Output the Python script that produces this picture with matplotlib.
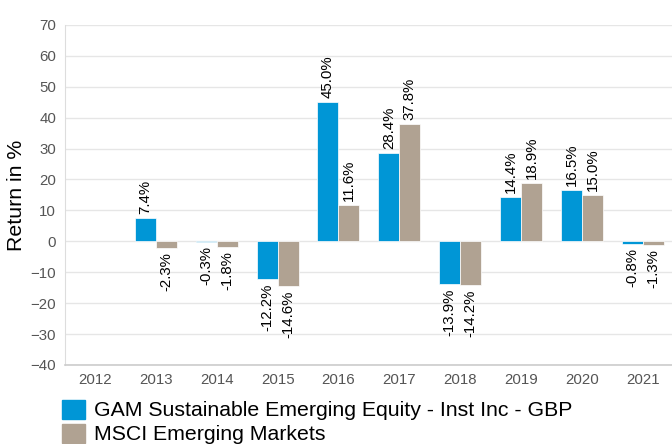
import numpy as np
import matplotlib.pyplot as plt
from matplotlib.patches import Patch

plt.rcParams['font.family'] = ['Liberation Sans', 'DejaVu Sans']

years = ['2012', '2013', '2014', '2015', '2016', '2017', '2018', '2019', '2020', '2021']
gam = [np.nan, 7.4, -0.3, -12.2, 45.0, 28.4, -13.9, 14.4, 16.5, -0.8]
msci = [np.nan, -2.3, -1.8, -14.6, 11.6, 37.8, -14.2, 18.9, 15.0, -1.3]
series_names = ['GAM Sustainable Emerging Equity - Inst Inc - GBP', 'MSCI Emerging Markets']
colors = ['#0096d6', '#b0a292']

fig = plt.figure(figsize=(6.72, 4.44), dpi=100)
ax = fig.add_axes([0.096, 0.178, 0.906, 0.766])

x = np.arange(len(years))
w = 0.345
for vals, off, c in [(gam, -w / 2, colors[0]), (msci, w / 2, colors[1])]:
    ax.bar(x + off, vals, width=w, color=c, edgecolor='white', linewidth=0.5, zorder=2)
    for xi, v in zip(x, vals):
        if np.isnan(v):
            continue
        ax.annotate(f'{v:.1f}%', (xi + off, v), xytext=(0, 3 if v >= 0 else -3),
                    textcoords='offset points', rotation=90, ha='center',
                    va='bottom' if v >= 0 else 'top', fontsize=10.8, color='black')

ax.set_xlim(-0.5, len(years) - 0.5)
ax.set_ylim(-40, 70)
ax.set_yticks(range(-40, 71, 10))
ax.set_xticks(x)
ax.set_xticklabels(years)
ax.tick_params(axis='both', length=0, labelsize=10.8, colors='#555555', pad=6)
ax.grid(axis='y', color='#e6e6e6', linewidth=1, zorder=0)
ax.set_axisbelow(True)
for s in ['top', 'right']:
    ax.spines[s].set_visible(False)
ax.spines['left'].set_color('#dddddd')
ax.spines['bottom'].set_color('#cccccc')
ax.spines['bottom'].set_linewidth(1.2)
ax.set_ylabel('Return in %', fontsize=15.3, va='center')
ax.yaxis.set_label_coords(-0.079, 0.5)

handles = [Patch(color=c) for c in colors]
fig.legend(handles, series_names, loc='upper left', bbox_to_anchor=(0.093, 0.1),
           frameon=False, fontsize=15.3, handlelength=1.05, handleheight=1.0,
           handletextpad=0.45, labelspacing=0.15, borderaxespad=0, borderpad=0)

fig.savefig('out.png', dpi=100)
